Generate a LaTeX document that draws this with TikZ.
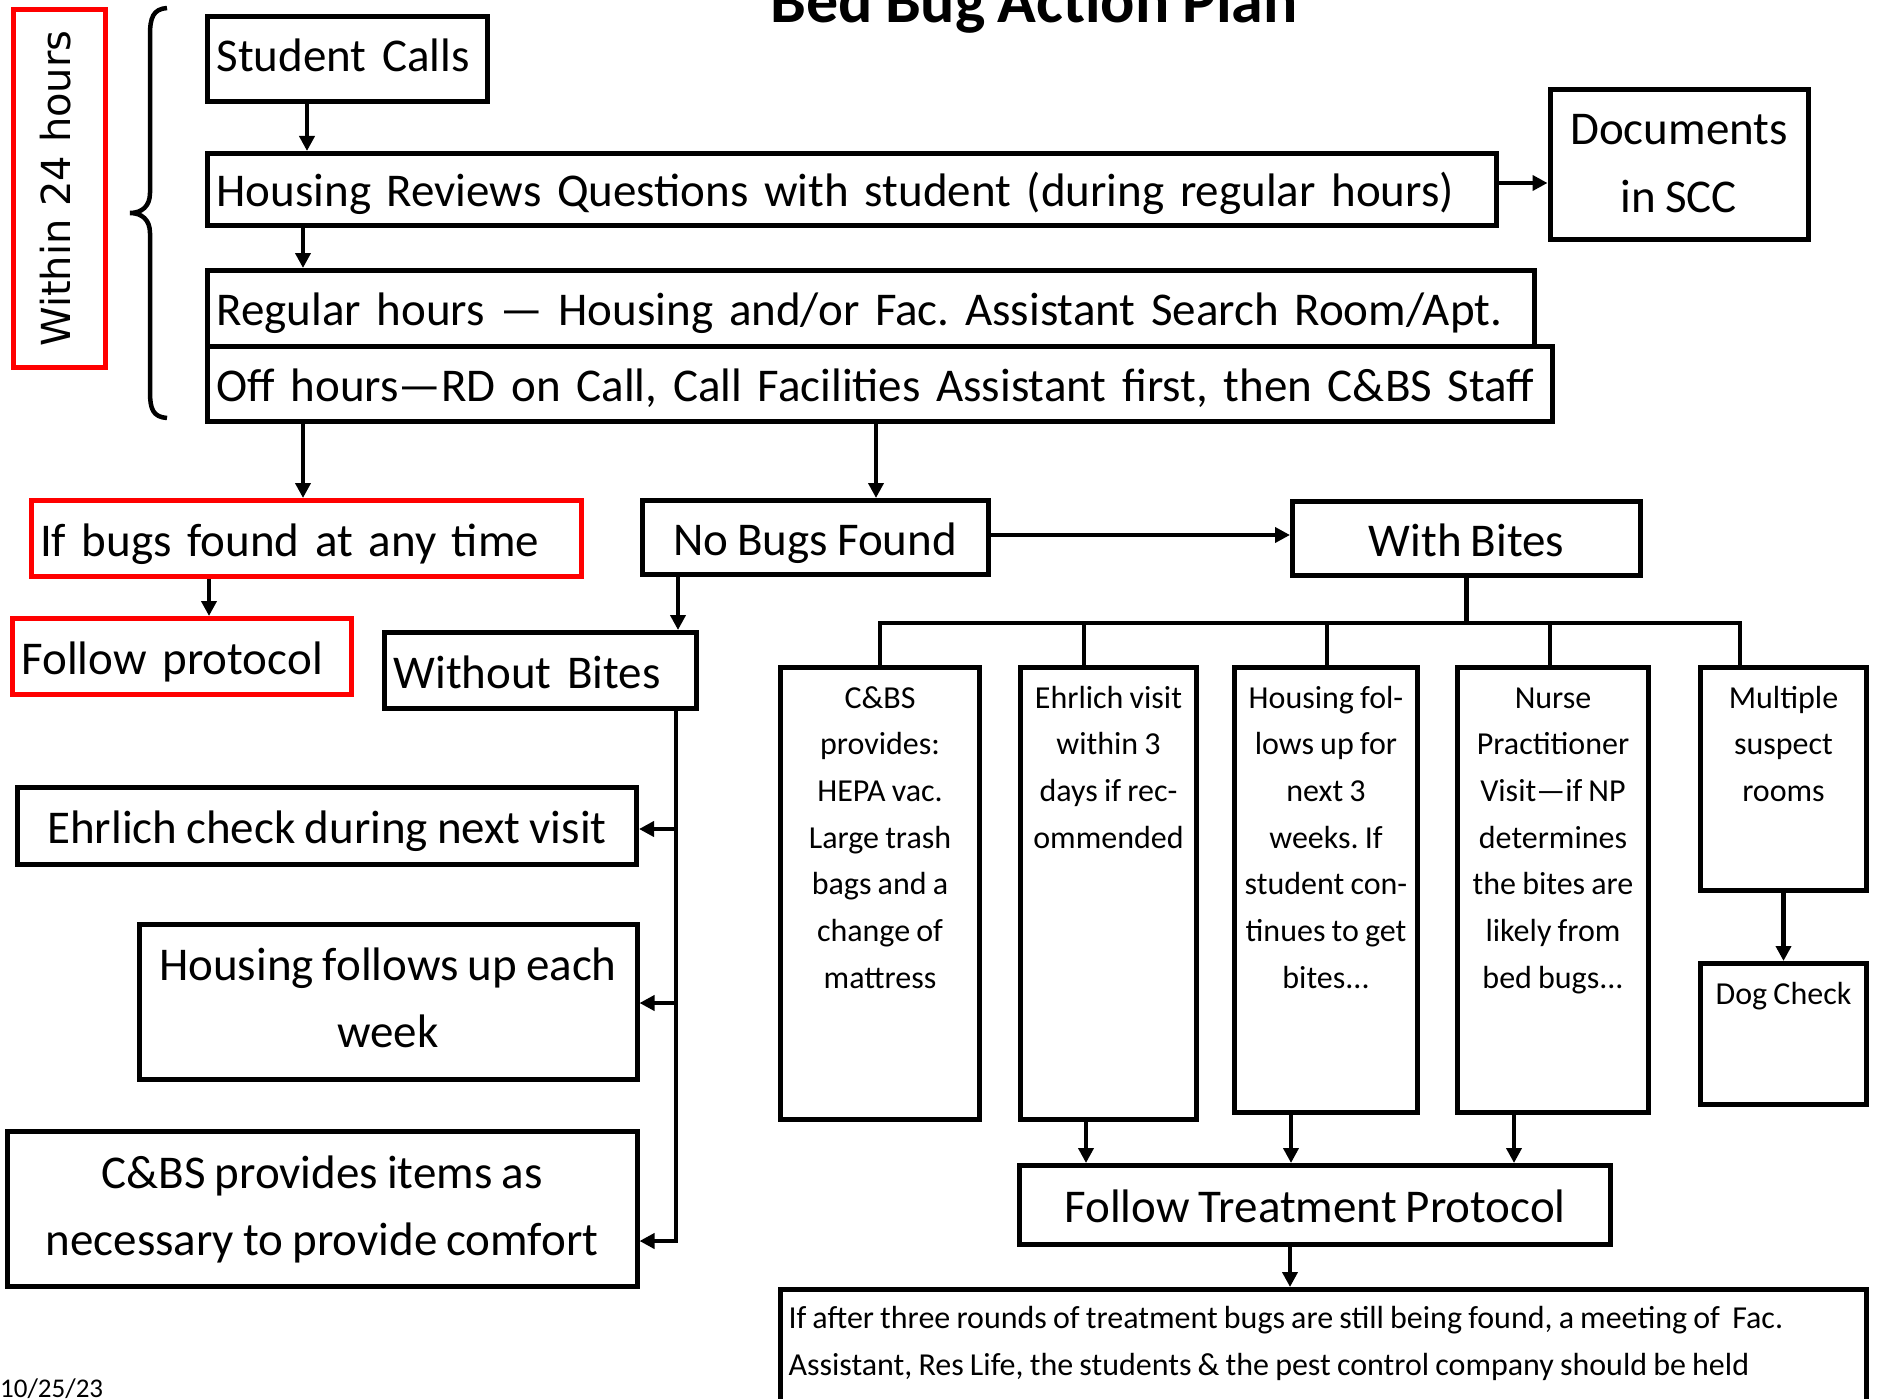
\documentclass[tikz,border=0pt]{standalone}
\usepackage{fontspec}
\setmainfont[WordSpace=0.85]{Carlito}
\newfontfamily\verdfont{DejaVu Sans}
\usetikzlibrary{arrows.meta}
\newcommand\mltext[2]{\parbox[t]{#1}{\centering #2}}
\newcommand\mlleft[2]{\parbox[t]{#1}{\raggedright #2}}
\begin{document}
\frenchspacing
\begin{tikzpicture}[x=1pt,y=-1pt,
  box/.style={draw, line width=5pt, inner xsep=9pt, inner ysep=0pt,
    font=\fontsize{47}{64}\selectfont},
  redbox/.style={box, draw=red},
  one/.style={text height=39pt, text depth=4pt},
  lft/.style={one, align=left},
  ctr/.style={one, align=center},
  tall/.style={box, font=\fontsize{32}{46.7}\selectfont, inner xsep=4pt},
  wire/.style={line width=4.5pt},
  arr/.style={line width=4.5pt, -{Triangle[length=15pt,width=15pt]}},
  line join=miter
]
\useasboundingbox (0,0) rectangle (1878,1399);

% title and date
\node[font=\bfseries\fontsize{64}{70}\selectfont, anchor=base, inner sep=0pt] (title) at (1034,23) {Bed Bug Action Plan};
\node[font=\fontsize{27}{30}\selectfont, anchor=base west, inner sep=0pt] (date) at (0,1397) {10/25/23};

% left label and brace
\node[redbox, rotate=90, minimum width=358pt, minimum height=92pt,
  font=\verdfont\fontsize{40}{48}\selectfont, text height=21pt, text depth=0pt] (within) at (59.5,188.5) {Within 24 hours};
\draw[line width=4.5pt] (167,8) .. controls (153,9) and (150,18) .. (150,35) -- (150,193)
  .. controls (150,206) and (142,213) .. (130,213)
  .. controls (142,213) and (150,220) .. (150,233) -- (150,392)
  .. controls (150,409) and (153,417) .. (167,418);

% top chain
\node[box, lft, text height=30pt, minimum width=280pt, minimum height=85pt, text width=262pt] (sc) at (347.5,59) {Student Calls};
\node[box, lft, minimum width=1289pt, minimum height=72pt, text width=1271pt] (hr) at (852,189.5) {Housing Reviews Questions with student (during regular hours)};
\node[box, minimum width=251pt, minimum height=150pt, font=\fontsize{47}{68}\selectfont, text height=33pt, text depth=72pt] (doc) at (1679,164.5) {\mltext{240pt}{Documents\\in SCC}};
\node[box, lft, minimum width=1327pt, minimum height=75.5pt, text width=1309pt] (reg) at (871,308.25) {Regular hours — Housing and/or Fac. Assistant Search Room/Apt.};
\node[box, lft, minimum width=1345pt, minimum height=75.5pt, text width=1327pt] (off) at (880,383.75) {Off hours—RD on Call, Call Facilities Assistant first, then C\&BS Staff};

% second level
\node[redbox, lft, minimum width=550.5pt, minimum height=76pt, text width=532.5pt] (ifb) at (306.25,538.5) {If bugs found at any time};
\node[redbox, lft, minimum width=339pt, minimum height=76pt, text width=321pt] (fp) at (182,656.5) {Follow protocol};
\node[box, ctr, minimum width=346pt, minimum height=74pt] (nob) at (815,537.5) {No Bugs Found};
\node[box, ctr, minimum width=348pt, minimum height=74pt] (wb) at (1466.5,538.5) {With Bites};
\node[box, lft, minimum width=312pt, minimum height=76pt, text width=294pt] (wob) at (540.5,670.5) {Without Bites};

% without bites branch
\node[box, ctr, minimum width=619pt, minimum height=77pt] (ehr) at (327,826) {Ehrlich check during next visit};
\node[box, minimum width=495pt, minimum height=155pt, font=\fontsize{47}{67}\selectfont, text height=33pt, text depth=77pt] (hfu) at (388,1002) {\mltext{480pt}{Housing follows up each\\week}};
\node[box, minimum width=627pt, minimum height=155pt, font=\fontsize{47}{67}\selectfont, text height=33pt, text depth=75pt] (cbs) at (322,1209) {\mltext{612pt}{C\&BS provides items as\\necessary to provide comfort}};

% with bites branch
\node[tall, minimum width=199pt, minimum height=452pt, text height=20pt, text depth=391pt] (c1) at (880,893.5)
  {\mltext{190pt}{C\&BS\\provides:\\HEPA vac.\\Large trash\\bags and a\\change of\\mattress}};
\node[tall, minimum width=176pt, minimum height=452pt, text height=20pt, text depth=391pt] (c2) at (1108.5,893.5)
  {\mltext{168pt}{Ehrlich visit\\within 3\\days if rec-\\ommended}};
\node[tall, minimum width=183pt, minimum height=445pt, text height=20pt, text depth=384pt] (c3) at (1326,890)
  {\mltext{175pt}{Housing fol-\\lows up for\\next 3\\weeks. If\\student con-\\tinues to get\\bites...}};
\node[tall, minimum width=191pt, minimum height=445pt, text height=20pt, text depth=384pt] (c4) at (1553,890)
  {\mltext{183pt}{Nurse\\Practitioner\\Visit—if NP\\determines\\the bites are\\likely from\\bed bugs...}};
\node[tall, minimum width=166pt, minimum height=223pt, text height=20pt, text depth=162pt] (c5) at (1783.5,779)
  {\mltext{158pt}{Multiple\\suspect\\rooms}};
\node[tall, minimum width=166pt, minimum height=141pt, text height=20pt, text depth=80pt] (dog) at (1783.5,1034)
  {\mltext{158pt}{Dog Check}};
\node[box, ctr, minimum width=591pt, minimum height=79pt] (ftp) at (1315,1205) {Follow Treatment Protocol};
\node[box, inner xsep=8pt, minimum width=1086pt, minimum height=141pt, font=\fontsize{32}{47}\selectfont, text height=22pt, text depth=86pt] (bot) at (1323.5,1360)
  {\mlleft{1070pt}{If after three rounds of treatment bugs are still being found, a meeting of\ \ Fac.\\Assistant, Res Life, the students \& the pest control company should be held}};

% helper coordinates
\coordinate (xa) at (307,0);
\coordinate (xb) at (303,0);
\coordinate (xc) at (876,0);
\coordinate (xd) at (209,0);
\coordinate (xe) at (678,0);
\coordinate (ya) at (0,183);
\coordinate (yb) at (0,535);
\coordinate (j1) at (676,829);
\coordinate (j2) at (676,1003);
\coordinate (j3) at (676,1241);
\coordinate (bL) at (880,623);
\coordinate (bR) at (1740,623);
\coordinate (d2) at (1084,623);
\coordinate (d3) at (1327,623);
\coordinate (d4) at (1550,623);
\coordinate (f2) at (1086,0);
\coordinate (f3) at (1291,0);
\coordinate (f4) at (1514,0);
\coordinate (f5) at (1290,0);

% connectors
\draw[arr] (sc.south -| xa) -- (hr.north -| xa);
\draw[arr] (hr.south -| xb) -- (reg.north -| xb);
\draw[arr] (hr.east |- ya) -- (doc.west |- ya);
\draw[arr] (off.south -| xb) -- (ifb.north -| xb);
\draw[arr] (off.south -| xc) -- (nob.north -| xc);
\draw[arr] (ifb.south -| xd) -- (fp.north -| xd);
\draw[arr] (nob.south -| xe) -- (wob.north -| xe);
\draw[arr] (nob.east |- yb) -- (wb.west |- yb);

\draw[arr] (wob.south -| j3) -- (j3) -- (j3 -| cbs.east);
\draw[arr] (j1) -- (j1 -| ehr.east);
\draw[arr] (j2) -- (j2 -| hfu.east);

\draw[wire] (wb.south) -- (wb.south |- bL);
\draw[wire] (c1.north -| bL) -- (bL) -- (bR) -- (c5.north -| bR);
\draw[wire] (d2) -- (c2.north -| d2);
\draw[wire] (d3) -- (c3.north -| d3);
\draw[wire] (d4) -- (c4.north -| d4);

\draw[arr] (c2.south -| f2) -- (ftp.north -| f2);
\draw[arr] (c3.south -| f3) -- (ftp.north -| f3);
\draw[arr] (c4.south -| f4) -- (ftp.north -| f4);
\draw[arr] (ftp.south -| f5) -- (bot.north -| f5);
\draw[arr] (c5.south) -- (dog.north);
\end{tikzpicture}
\end{document}
